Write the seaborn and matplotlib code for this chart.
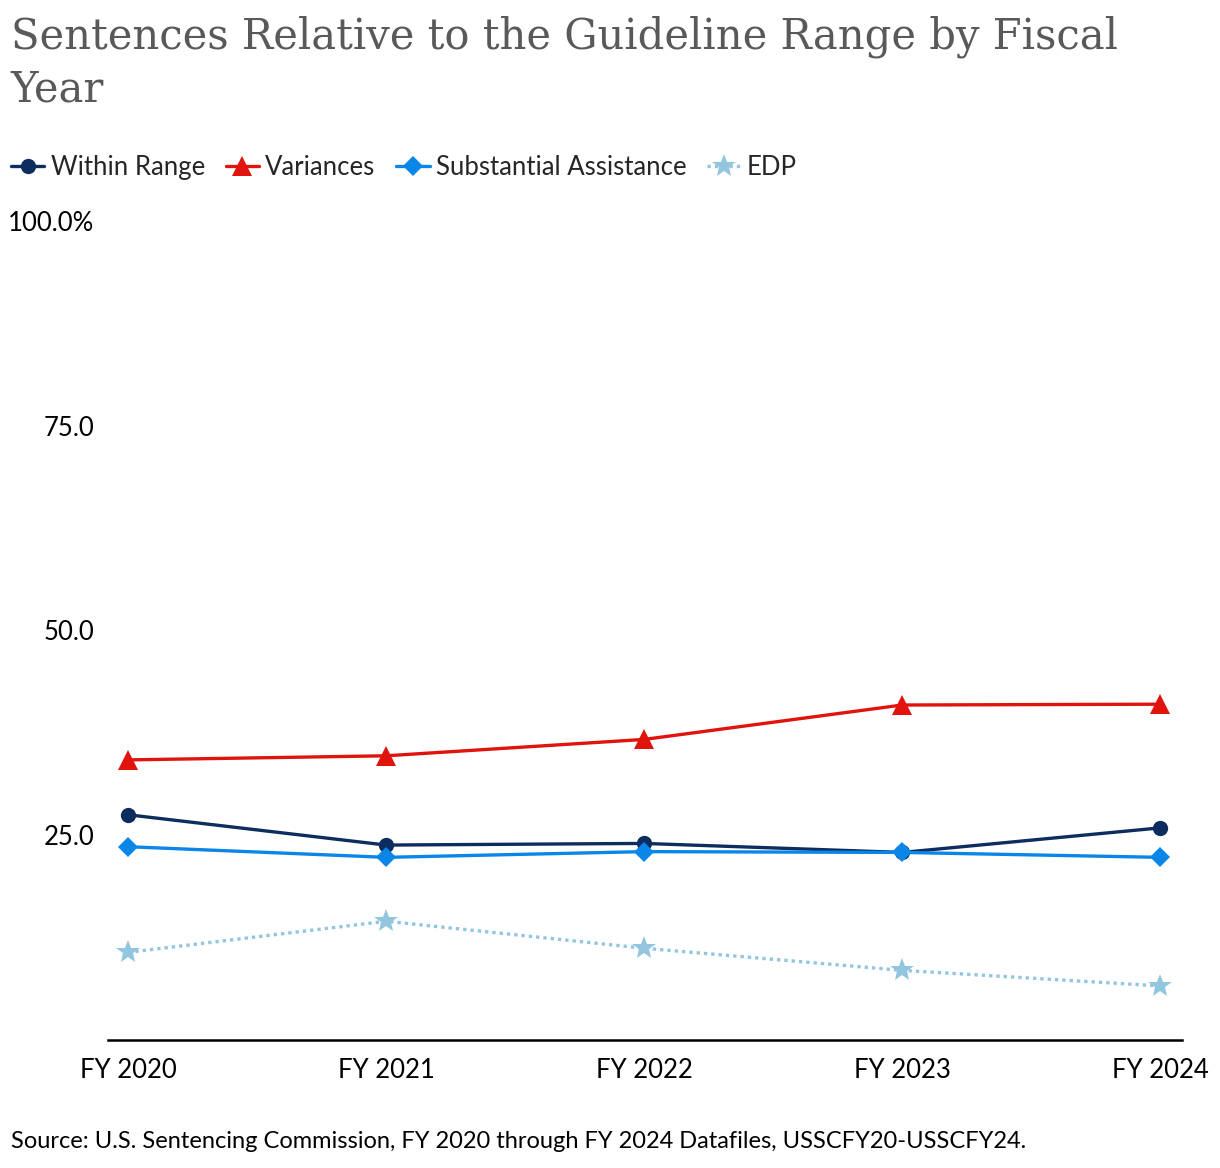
import pandas as pd
import matplotlib.pyplot as plt
import seaborn as sns

years = ["FY 2020", "FY 2021", "FY 2022", "FY 2023", "FY 2024"]
within_range = [27.5, 23.8, 24.0, 22.9, 25.9]
variances = [34.2, 34.7, 36.7, 40.9, 41.0]
substantial_assistance = [23.6, 22.3, 23.0, 22.9, 22.3]
edp = [10.7, 14.5, 11.2, 8.5, 6.6]

series_names = ["Within Range", "Variances", "Substantial Assistance", "EDP"]
colors = ["#0c2d5e", "#e0140c", "#0a86e8", "#92c5de"]
markers = ["o", "^", "D", "*"]
marker_sizes = [11, 14, 10, 18]

df = pd.DataFrame({
    "year": years * 4,
    "pos": list(range(len(years))) * 4,
    "series": [s for s in series_names for _ in years],
    "value": within_range + variances + substantial_assistance + edp,
})

sns.set_style("white")
plt.rcParams["font.family"] = ["Lato", "DejaVu Sans"]

fig = plt.figure(figsize=(12.2, 11.68), dpi=100)
ax = fig.add_axes([0.0885, 0.1096, 0.8805, 0.7012])

sns.lineplot(
    data=df, x="pos", y="value", hue="series", style="series",
    hue_order=series_names, style_order=series_names,
    palette=colors, markers=dict(zip(series_names, markers)),
    dashes={"Within Range": "", "Variances": "", "Substantial Assistance": "", "EDP": (1, 1.2)},
    linewidth=2.4, markeredgewidth=0, ax=ax, legend=False,
)
for line, ms in zip(ax.get_lines(), marker_sizes):
    line.set_markersize(ms)

ax.set_xlim(-0.078, 4.085)
ax.set_ylim(0, 100)
ax.set_xticks(range(len(years)))
ax.set_xticklabels(years)
ax.set_yticks([25, 50, 75, 100])
ax.set_yticklabels(["25.0", "50.0", "75.0", "100.0%"])
ax.tick_params(axis="both", length=0, labelsize=18.5, colors="black")
ax.tick_params(axis="x", pad=13)
ax.tick_params(axis="y", pad=10)
ax.set_xlabel("")
ax.set_ylabel("")
for side in ["left", "right", "top"]:
    ax.spines[side].set_visible(False)
ax.spines["bottom"].set_color("black")
ax.spines["bottom"].set_linewidth(1.8)

# legend built from the plotted lines
handles = ax.get_lines()[:4]
fig.legend(
    handles, series_names, loc="upper left", bbox_to_anchor=(-0.01, 0.8875),
    ncol=4, frameon=False, fontsize=18.5, handlelength=1.3, handletextpad=0.25,
    columnspacing=0.8,
)

fig.text(0.009, 0.987, "Sentences Relative to the Guideline Range by Fiscal\nYear",
         ha="left", va="top", fontsize=30, color="#595959",
         family=["DejaVu Serif"], linespacing=1.33)
fig.text(0.009, 0.0135,
         "Source: U.S. Sentencing Commission, FY 2020 through FY 2024 Datafiles, USSCFY20-USSCFY24.",
         ha="left", va="bottom", fontsize=17, color="black")

fig.savefig("out.png", dpi=100)
